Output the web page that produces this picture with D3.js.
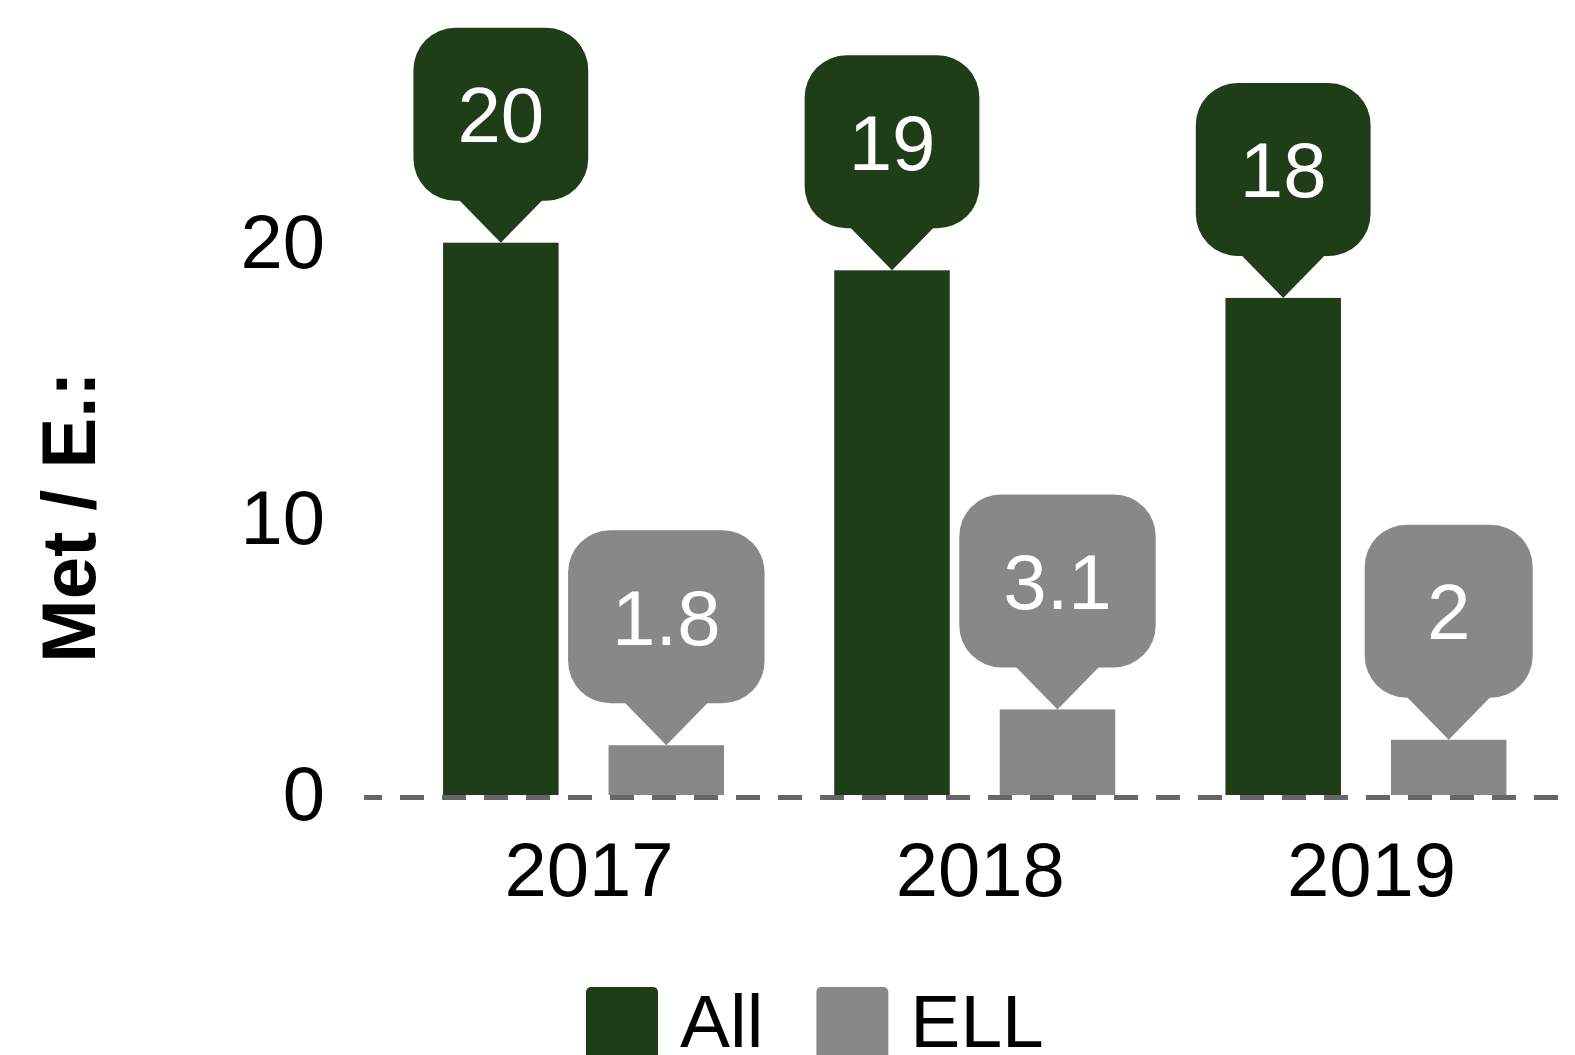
<!DOCTYPE html>
<html>
<head>
    <title>Met / E.</title>
    <script src="https://cdnjs.cloudflare.com/ajax/libs/d3/7.8.5/d3.min.js"></script>
    <style>
        body{
            margin: 0;
            background: #fff;
        }
        svg{
            display: block;
            font-family: 'Liberation Sans', Arial, sans-serif;
        }
    </style>
</head>
<body>
    <svg id="chart" width="1575" height="1055"></svg>

    <script>
        // data
        var years = ["2017", "2018", "2019"];
        var groups = ["All", "ELL"];
        var allValues = [20, 19, 18];
        var ellValues = [1.8, 3.1, 2];
        var yTicks = [0, 10, 20];

        var colors = {All: "#1f3d17", ELL: "#888888"};

        var rows = years.map((yr, i) => ({year: yr, All: allValues[i], ELL: ellValues[i]}));

        var svg = d3.select("#chart");

        var x0 = d3.scaleBand()
                    .domain(years)
                    .range([388, 1561.5])
                    .paddingInner(0.2817)
                    .paddingOuter(0.1408);

        var x1 = d3.scaleBand()
                    .domain(groups)
                    .range([0, x0.bandwidth()])
                    .paddingInner(0.302);

        var yScale = d3.scaleLinear().domain([0, 20]).range([795, 242.7]);

        // y axis labels
        var yAxis = d3.axisLeft(yScale).tickValues(yTicks).tickSize(0).tickPadding(0);
        var yG = svg.append("g")
                    .attr("transform", "translate(325,0)")
                    .call(yAxis);
        yG.select(".domain").remove();
        yG.selectAll("text")
            .attr("font-size", 76)
            .attr("font-family", "'Liberation Sans', Arial, sans-serif")
            .attr("fill", "#000");

        // x axis labels
        var xAxis = d3.axisBottom(x0).tickSize(0).tickPadding(47);
        var xG = svg.append("g")
                    .attr("transform", "translate(5.5," + yScale(0) + ")")
                    .call(xAxis);
        xG.select(".domain").remove();
        xG.selectAll("text")
            .attr("font-size", 76)
            .attr("font-family", "'Liberation Sans', Arial, sans-serif")
            .attr("fill", "#000");

        // axis title
        svg.append("text")
            .attr("transform", "translate(95,517) rotate(-90)")
            .attr("text-anchor", "middle")
            .attr("font-size", 76)
            .attr("font-weight", "bold")
            .attr("fill", "#000")
            .text("Met / E.:");

        // bars
        var barData = [];
        rows.forEach(r => groups.forEach(g => barData.push({year: r.year, key: g, value: r[g]})));

        svg.append("g").selectAll("rect")
            .data(barData)
            .enter()
            .append("rect")
            .attr("x", d => x0(d.year) + x1(d.key))
            .attr("y", d => yScale(d.value))
            .attr("width", x1.bandwidth())
            .attr("height", d => yScale(0) - yScale(d.value))
            .attr("fill", d => colors[d.key]);

        // dashed zero line
        svg.append("line")
            .attr("x1", 364)
            .attr("x2", 1575)
            .attr("y1", yScale(0) + 2.5)
            .attr("y2", yScale(0) + 2.5)
            .attr("stroke", "#666666")
            .attr("stroke-width", 5)
            .attr("stroke-dasharray", "24,18")
            .attr("stroke-dashoffset", 6);

        // callout labels
        var boxH = 173, tip = 42, radius = 42;
        var labels = svg.append("g").selectAll("g")
            .data(barData)
            .enter()
            .append("g")
            .attr("transform", d => "translate(" + (x0(d.year) + x1(d.key) + x1.bandwidth() / 2) + "," + yScale(d.value) + ")");

        labels.each(function(d){
            var g = d3.select(this);
            var txt = g.append("text")
                        .attr("text-anchor", "middle")
                        .attr("font-size", 78)
                        .attr("fill", "#fff")
                        .attr("y", -tip - boxH / 2 + 28)
                        .text(d.value);
            var w = Math.max(168, txt.node().getComputedTextLength() + 88);
            g.insert("rect", "text")
                .attr("x", -w / 2)
                .attr("y", -tip - boxH)
                .attr("width", w)
                .attr("height", boxH)
                .attr("rx", radius)
                .attr("fill", colors[d.key]);
            g.insert("path", "text")
                .attr("d", "M0,0 L" + (-tip) + "," + (-tip - 1) + " L" + tip + "," + (-tip - 1) + " Z")
                .attr("fill", colors[d.key]);
        });

        // legend
        var lx = 586;
        groups.forEach(g => {
            svg.append("rect")
                .attr("x", lx)
                .attr("y", 987)
                .attr("width", 72)
                .attr("height", 72)
                .attr("rx", 5)
                .attr("fill", colors[g]);
            var t = svg.append("text")
                .attr("x", lx + 94)
                .attr("y", 1047)
                .attr("font-size", 75)
                .attr("fill", "#000")
                .text(g);
            lx = lx + 94 + t.node().getComputedTextLength() + 53;
        });
    </script>
</body>
</html>
